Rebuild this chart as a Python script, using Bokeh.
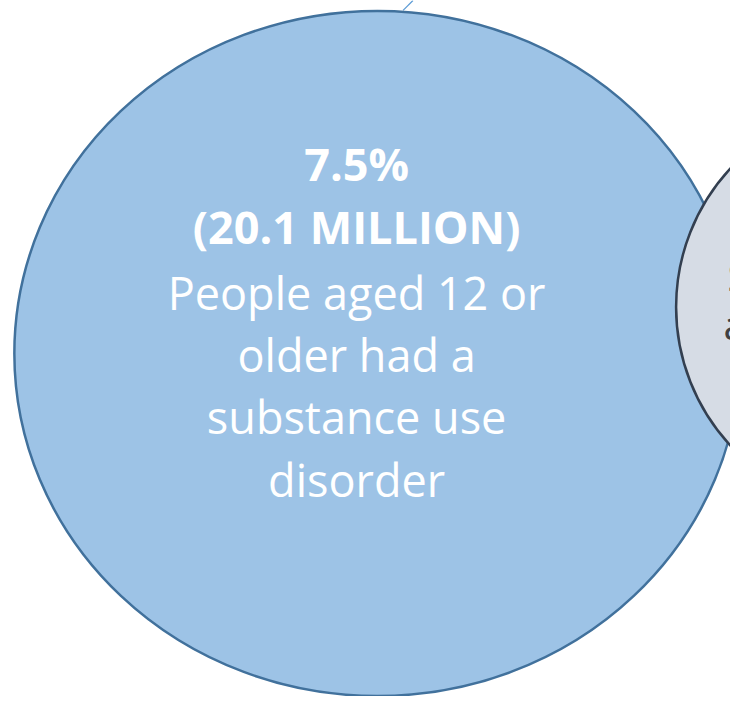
from bokeh.plotting import figure
from bokeh.models import Range1d, ColumnDataSource
from bokeh.core.properties import value
from bokeh.embed import file_html
from bokeh.resources import INLINE

# ---- data (text content) ----
big_headline = ["7.5%", "(20.1 MILLION)"]
big_body = ["People aged 12 or", "older had a", "substance use", "disorder"]
small_body = ["Struggled with", "alcohol use"]

# ---- layout (reference pixel coordinates, mapped onto the figure) ----
W, H = 730, 696
p = figure(width=W, height=H, output_backend="svg", toolbar_location=None,
           x_range=Range1d(0, 738), y_range=Range1d(704, 0),
           min_border=0, outline_line_color=None)
p.axis.visible = False
p.grid.visible = False
p.background_fill_color = "white"
p.border_fill_color = "white"

# leader line at top
p.segment(x0=[407], y0=[10], x1=[417], y1=[0], line_color="#5B9BD5", line_width=1.2)

# big circle (ellipse)
p.ellipse(x=[381], y=[357], width=[734], height=[693],
          fill_color="#9DC3E6", line_color="#41719C", line_width=2.5)

# small circle
p.circle(x=[889], y=[310], radius=206,
         fill_color="#D6DCE5", line_color="#333F50", line_width=2.5)

# big circle text
head_src = ColumnDataSource(dict(x=[360] * len(big_headline), y=[165, 229], t=big_headline))
p.text(x="x", y="y", text="t", source=head_src, text_font=value("Open Sans"),
       text_font_size="45px", text_font_style="bold", text_align="center",
       text_baseline="alphabetic", text_color="white")

body_src = ColumnDataSource(dict(x=[360] * len(big_body), y=[295, 358, 421, 485], t=big_body))
p.text(x="x", y="y", text="t", source=body_src, text_font=value("Open Sans"),
       text_font_size="45px", text_align="center",
       text_baseline="alphabetic", text_color="white")

# small circle text (mostly clipped by the frame)
small_src = ColumnDataSource(dict(x=[735, 731], y=[279, 328], t=small_body))
p.text(x="x", y="y", text="t", source=small_src, text_font=value("Open Sans"),
       text_font_size="40px", text_align="left",
       text_baseline="alphabetic", text_color="#404040")

open("out.html", "w").write(file_html(p, INLINE))
